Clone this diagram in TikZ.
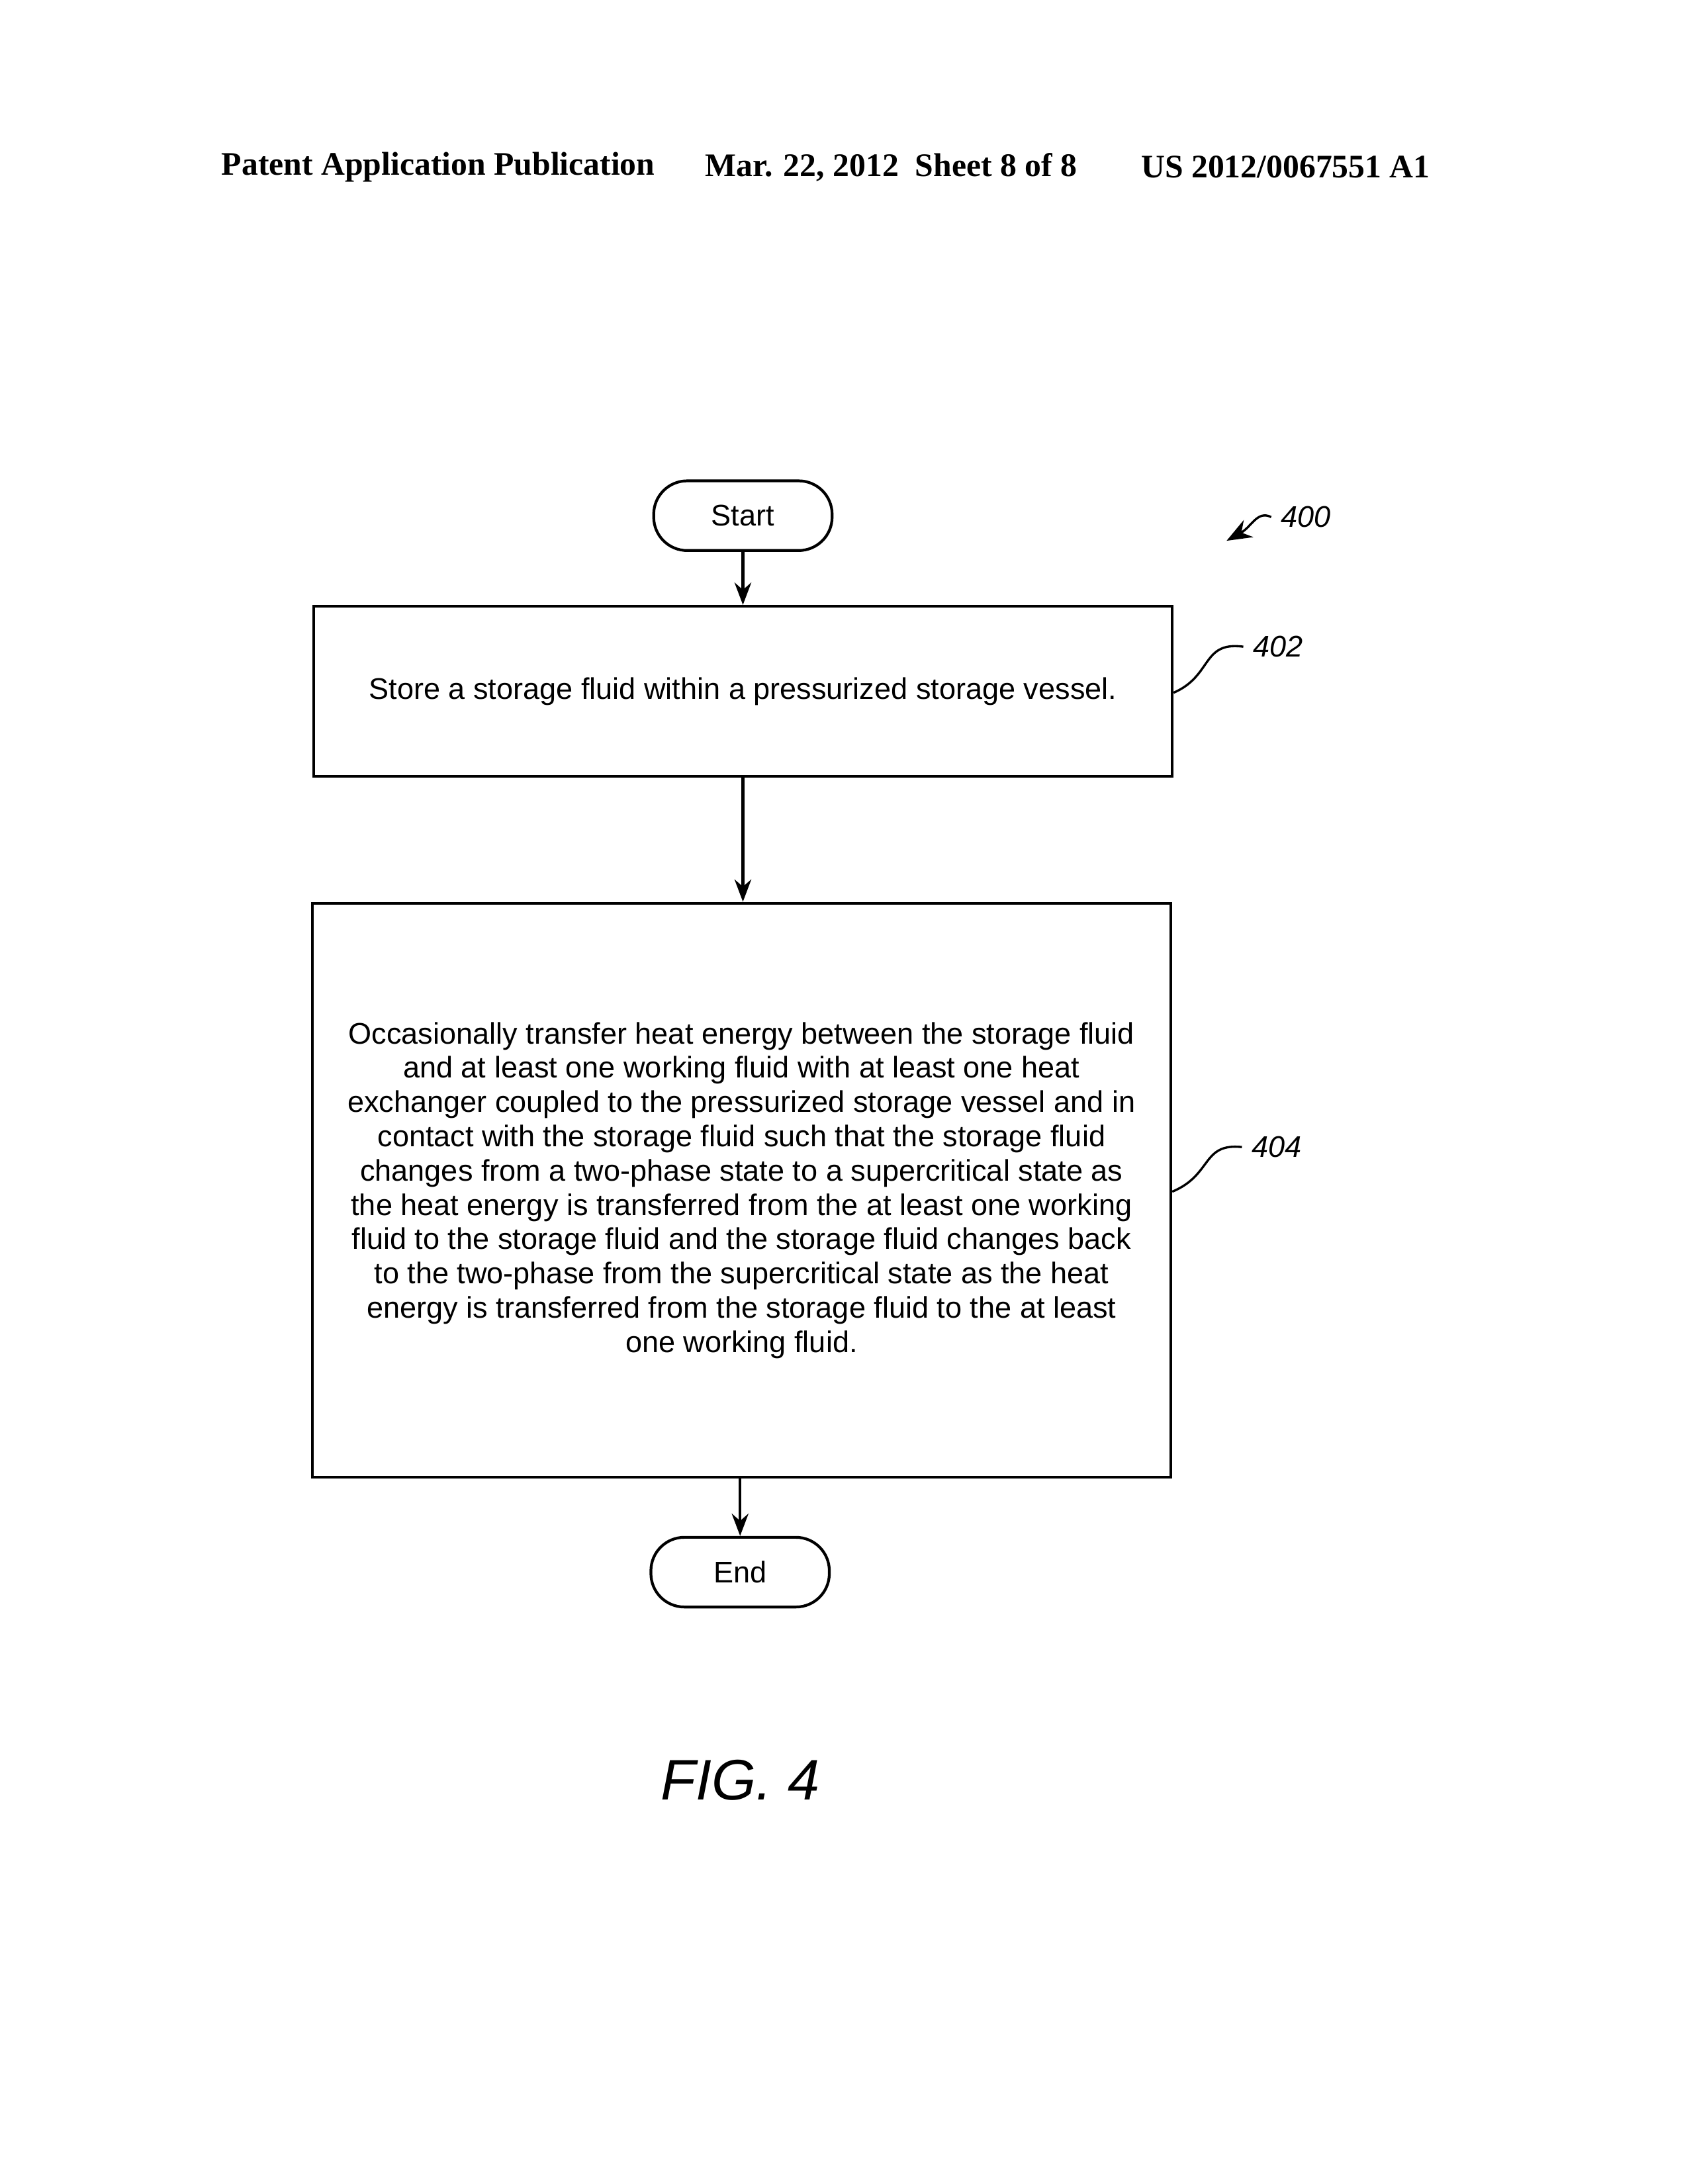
\documentclass[tikz,border=0pt]{standalone}
\usepackage{fontspec}
\setmainfont{Liberation Sans}
\newfontfamily\hdrfont{Liberation Serif}
\usetikzlibrary{arrows.meta, positioning}
\begin{document}
\begin{tikzpicture}[x=0.5pt,y=-0.5pt,
  flow/.style={-{Stealth[length=8pt,width=6pt]}, line width=1pt},
  procbox/.style={draw, line width=1pt, minimum width=308pt, align=center, font=\fontsize{10.7}{12.3}\selectfont},
  term/.style={draw, line width=1pt, rounded corners=12pt, minimum width=64pt, minimum height=25pt, font=\fontsize{10.7}{12}\selectfont},
  refnum/.style={font=\itshape\fontsize{10.7}{12}\selectfont}]
\useasboundingbox (0,0) rectangle (1216,1567);

% header
\node[font=\hdrfont\bfseries\fontsize{11.8}{13}\selectfont, anchor=west] (hdrA) at (152,120) {Patent Application Publication};
\node[font=\hdrfont\bfseries\fontsize{11.8}{13}\selectfont, anchor=west] (hdrB) at (499,120) {Mar. 22, 2012\ \ Sheet 8 of 8};
\node[font=\hdrfont\bfseries\fontsize{11.8}{13}\selectfont, anchor=east] (hdrC) at (1033,120) {US 2012/0067551 A1};

% terminals and steps
\node[term] (start) at (533,370) {Start};
\node[procbox, minimum height=61pt] (store) at (533,496) {Store a storage fluid within a pressurized storage vessel.};
\node[procbox, minimum height=206pt] (transfer) at (532,854) {Occasionally transfer heat energy between the storage fluid\\
and at least one working fluid with at least one heat\\
exchanger coupled to the pressurized storage vessel and in\\
contact with the storage fluid such that the storage fluid\\
changes from a two-phase state to a supercritical state as\\
the heat energy is transferred from the at least one working\\
fluid to the storage fluid and the storage fluid changes back\\
to the two-phase from the supercritical state as the heat\\
energy is transferred from the storage fluid to the at least\\
one working fluid.};
\node[term] (end) at (531,1128) {End};

% connectors
\draw[flow] (start) -- (start |- store.north);
\draw[flow] (store) -- (store |- transfer.north);
\draw[flow] (transfer.south -| end) -- (end);

% reference numerals
\node[refnum, anchor=west] (n400) at (912,371) {400};
\node[refnum, anchor=west] (n402) at (892,464) {402};
\node[refnum, anchor=west] (n404) at (891,823) {404};
\draw[line width=0.8pt] (store.east |- 0,497) .. controls (870,485) and (862,460) .. (n402.west);
\draw[line width=0.8pt] (transfer.east |- 0,855) .. controls (870,843) and (862,820) .. (n404.west);
\coordinate (tip400) at (880,388);
\draw[line width=0.8pt, -{Stealth[length=9pt,width=7pt]}] (n400.west) .. controls (902,366) and (898,378) .. (tip400);

% figure label
\node[font=\itshape\fontsize{20.5}{24}\selectfont] (fig) at (531,1277) {FIG. 4};
\end{tikzpicture}
\end{document}
